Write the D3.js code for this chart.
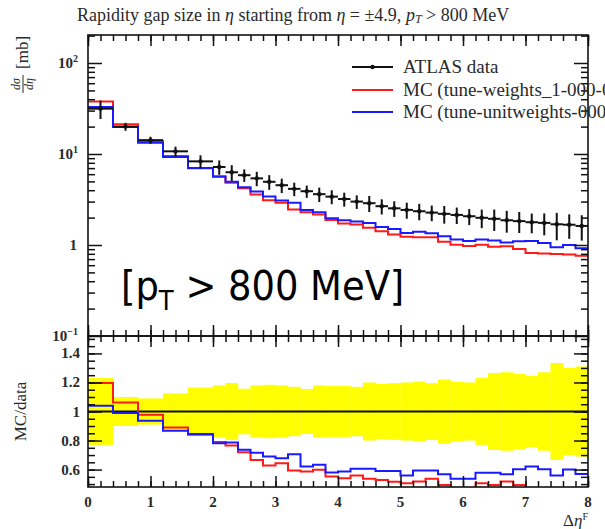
<!DOCTYPE html>
<html>
<head>
<meta charset="utf-8">
<script src="https://cdn.jsdelivr.net/npm/d3@7"></script>
<style>
  body { margin: 0; background: #fff; }
  svg { display: block; }
</style>
</head>
<body>
<script>
// bin edges in delta eta^F (wide bins up to 2, then 0.2)
var binEdges = [0, 0.4, 0.8, 1.2, 1.6, 2.0, 2.2, 2.4, 2.6, 2.8, 3.0, 3.2, 3.4, 3.6, 3.8, 4.0,
    4.2, 4.4, 4.6, 4.8, 5.0, 5.2, 5.4, 5.6, 5.8, 6.0, 6.2, 6.4, 6.6, 6.8, 7.0, 7.2, 7.4, 7.6, 7.8, 8.0];

// ATLAS data, dsigma/deta [mb]
var atlasData = [31.5, 20, 14.2, 10.7, 8.3, 7.2, 6.3, 5.85, 5.4, 4.95, 4.54, 4.14, 3.9, 3.62, 3.4,
    3.2, 3.0, 2.88, 2.67, 2.53, 2.43, 2.35, 2.27, 2.2, 2.14, 2.07, 1.99, 1.94, 1.87, 1.83, 1.78,
    1.75, 1.69, 1.67, 1.62];
// relative uncertainty of the data (yellow band half width)
var atlasRelErr = [0.23, 0.10, 0.09, 0.125, 0.165, 0.18, 0.196, 0.157, 0.18, 0.184, 0.18, 0.17,
    0.155, 0.18, 0.175, 0.175, 0.17, 0.2, 0.19, 0.195, 0.2, 0.205, 0.195, 0.22, 0.205, 0.2, 0.23,
    0.265, 0.27, 0.26, 0.245, 0.27, 0.334, 0.3, 0.31];
// MC (tune-weights_1-000-000), red
var mcWeights = [37.67, 21.24, 13.87, 9.52, 6.97, 5.69, 4.83, 4.21, 3.60, 3.11, 2.92, 2.455, 2.285,
    2.165, 1.877, 1.728, 1.677, 1.544, 1.412, 1.308, 1.23, 1.215, 1.217, 1.087, 1.006, 0.973,
    1.007, 0.958, 0.967, 0.904, 0.819, 0.805, 0.794, 0.785, 0.761];
// MC (tune-unitweights-000), blue
var mcUnit = [32.76, 19.8, 13.29, 9.28, 7.01, 5.63, 4.96, 4.31, 3.87, 3.42, 3.08, 2.92, 2.42, 2.29,
    1.97, 1.875, 1.815, 1.742, 1.578, 1.495, 1.358, 1.394, 1.346, 1.25, 1.147, 1.11, 1.152, 1.123,
    1.062, 1.103, 1.105, 1.055, 0.945, 1.002, 0.923];

var xTickLabels = [0, 1, 2, 3, 4, 5, 6, 7, 8];
var ratioTicks = [0.6, 0.8, 1, 1.2, 1.4];
var legendLabels = ["ATLAS data", "MC (tune-weights_1-000-000)", "MC (tune-unitweights-000)"];

function drawChart() {
    var width = 605, height = 529;
    var left = 88, right = 588, plotTop = 35, mid = 336, bottom = 487;
    var serif = "'Liberation Serif', 'DejaVu Serif', serif";
    var labelColor = "#2a2a2a";

    var svg = d3.select("body").append("svg")
        .attr("width", width)
        .attr("height", height);

    var x = d3.scaleLinear().domain([0, 8]).range([left, right]);
    var y = d3.scaleLog().domain([0.1, Math.pow(10, 2 + 28 / 91)]).range([mid, plotTop]);
    var yr = d3.scaleLinear().domain([0.48, 1.52]).range([bottom, mid]);

    var defs = svg.append("defs");
    defs.append("clipPath").attr("id", "clipMain").append("rect")
        .attr("x", left).attr("y", plotTop).attr("width", right - left).attr("height", mid - plotTop);
    defs.append("clipPath").attr("id", "clipRatio").append("rect")
        .attr("x", left).attr("y", mid).attr("width", right - left).attr("height", bottom - mid);

    // step path over bins
    function stepPath(values, scaleY) {
        var p = d3.path();
        values.forEach(function (v, i) {
            var x0 = x(binEdges[i]), x1 = x(binEdges[i + 1]), yy = scaleY(v);
            if (i === 0) p.moveTo(x0, yy); else p.lineTo(x0, yy);
            p.lineTo(x1, yy);
        });
        return p.toString();
    }

    // ---------- main panel ----------
    var gMain = svg.append("g").attr("clip-path", "url(#clipMain)");
    gMain.append("path").attr("d", stepPath(mcWeights, y))
        .attr("fill", "none").attr("stroke", "#ff1a1a").attr("stroke-width", 2);
    gMain.append("path").attr("d", stepPath(mcUnit, y))
        .attr("fill", "none").attr("stroke", "#1a1aff").attr("stroke-width", 2);

    var pts = gMain.selectAll(".pt").data(atlasData).enter().append("g");
    pts.append("line")
        .attr("x1", function (d, i) { return x(binEdges[i]); })
        .attr("x2", function (d, i) { return x(binEdges[i + 1]); })
        .attr("y1", function (d) { return y(d); })
        .attr("y2", function (d) { return y(d); })
        .attr("stroke", "#111").attr("stroke-width", 2);
    pts.append("line")
        .attr("x1", function (d, i) { return x((binEdges[i] + binEdges[i + 1]) / 2); })
        .attr("x2", function (d, i) { return x((binEdges[i] + binEdges[i + 1]) / 2); })
        .attr("y1", function (d, i) { return y(d * (1 - atlasRelErr[i])); })
        .attr("y2", function (d, i) { return y(d * (1 + atlasRelErr[i])); })
        .attr("stroke", "#111").attr("stroke-width", 2);
    pts.append("circle")
        .attr("cx", function (d, i) { return x((binEdges[i] + binEdges[i + 1]) / 2); })
        .attr("cy", function (d) { return y(d); })
        .attr("r", 2.2).attr("fill", "#111");

    // ---------- ratio panel ----------
    var gRatio = svg.append("g").attr("clip-path", "url(#clipRatio)");
    gRatio.selectAll(".band").data(atlasRelErr).enter().append("rect")
        .attr("x", function (d, i) { return x(binEdges[i]); })
        .attr("width", function (d, i) { return x(binEdges[i + 1]) - x(binEdges[i]) + 0.3; })
        .attr("y", function (d) { return yr(1 + d); })
        .attr("height", function (d) { return yr(1 - d) - yr(1 + d); })
        .attr("fill", "#ffff00");
    gRatio.append("line")
        .attr("x1", left).attr("x2", right).attr("y1", yr(1)).attr("y2", yr(1))
        .attr("stroke", "#111").attr("stroke-width", 2);
    var ratioW = mcWeights.map(function (v, i) { return v / atlasData[i]; });
    var ratioU = mcUnit.map(function (v, i) { return v / atlasData[i]; });
    gRatio.append("path").attr("d", stepPath(ratioW, yr))
        .attr("fill", "none").attr("stroke", "#ff1a1a").attr("stroke-width", 2);
    gRatio.append("path").attr("d", stepPath(ratioU, yr))
        .attr("fill", "none").attr("stroke", "#1a1aff").attr("stroke-width", 2);

    // ---------- ticks ----------
    var xMinor = d3.range(0, 8.001, 0.2);
    function tickGroup(axis, tx, ty) {
        var g = svg.append("g").attr("transform", "translate(" + tx + "," + ty + ")").call(axis);
        g.select(".domain").remove();
        g.selectAll("line").attr("stroke", "#111").attr("stroke-width", 1.5);
        return g;
    }
    [[d3.axisBottom, plotTop], [d3.axisTop, mid], [d3.axisBottom, mid], [d3.axisTop, bottom]].forEach(function (a) {
        tickGroup(a[0](x).tickValues(xMinor).tickSize(6).tickFormat(""), 0, a[1]);
        tickGroup(a[0](x).tickValues(xTickLabels).tickSize(11).tickFormat(""), 0, a[1]);
    });

    var logMinor = [];
    [0.1, 1, 10, 100].forEach(function (dec) {
        for (var k = 2; k <= 9; k++) if (k * dec < y.domain()[1]) logMinor.push(k * dec);
    });
    var logMajor = [0.1, 1, 10, 100];
    tickGroup(d3.axisRight(y).tickValues(logMinor).tickSize(7).tickFormat(""), left, 0);
    tickGroup(d3.axisRight(y).tickValues(logMajor).tickSize(14).tickFormat(""), left, 0);
    tickGroup(d3.axisLeft(y).tickValues(logMinor).tickSize(7).tickFormat(""), right, 0);
    tickGroup(d3.axisLeft(y).tickValues(logMajor).tickSize(14).tickFormat(""), right, 0);

    var rMinor = d3.range(0.5, 1.501, 0.05);
    tickGroup(d3.axisRight(yr).tickValues(rMinor).tickSize(7).tickFormat(""), left, 0);
    tickGroup(d3.axisRight(yr).tickValues(ratioTicks).tickSize(14).tickFormat(""), left, 0);
    tickGroup(d3.axisLeft(yr).tickValues(rMinor).tickSize(7).tickFormat(""), right, 0);
    tickGroup(d3.axisLeft(yr).tickValues(ratioTicks).tickSize(14).tickFormat(""), right, 0);

    // frames
    svg.append("rect").attr("x", left).attr("y", plotTop).attr("width", right - left).attr("height", mid - plotTop)
        .attr("fill", "none").attr("stroke", "#111").attr("stroke-width", 1.6);
    svg.append("rect").attr("x", left).attr("y", mid).attr("width", right - left).attr("height", bottom - mid)
        .attr("fill", "none").attr("stroke", "#111").attr("stroke-width", 1.6);

    // ---------- tick labels ----------
    var lab = svg.append("g").attr("font-family", serif).attr("fill", labelColor)
        .attr("font-size", 15).attr("font-weight", "bold");
    lab.selectAll(".xl").data(xTickLabels).enter().append("text")
        .attr("x", function (d) { return x(d); }).attr("y", 507)
        .attr("text-anchor", "middle").text(function (d) { return d; });
    lab.selectAll(".rl").data(ratioTicks).enter().append("text")
        .attr("x", 80).attr("y", function (d) { return yr(d) + 5; })
        .attr("text-anchor", "end").text(function (d) { return d; });

    var logLabels = [{ v: 100, e: "2" }, { v: 10, e: "1" }, { v: 0.1, e: "\u22121" }];
    logLabels.forEach(function (l) {
        var t = lab.append("text").attr("x", 78).attr("y", y(l.v) + 5).attr("text-anchor", "end");
        t.append("tspan").text("10");
        t.append("tspan").attr("dy", -6).attr("font-size", 10).text(l.e);
    });
    lab.append("text").attr("x", 77).attr("y", y(1) + 5).attr("text-anchor", "end").text("1");

    // ---------- title ----------
    var title = svg.append("text").attr("x", 77).attr("y", 21)
        .attr("font-family", serif).attr("font-size", 18).attr("fill", labelColor);
    title.append("tspan").text("Rapidity gap size in ");
    title.append("tspan").attr("font-style", "italic").text("\u03b7");
    title.append("tspan").text(" starting from ");
    title.append("tspan").attr("font-style", "italic").text("\u03b7");
    title.append("tspan").text(" = \u00b14.9, ");
    title.append("tspan").attr("font-style", "italic").text("p");
    title.append("tspan").attr("font-style", "italic").attr("font-size", 12).attr("dy", 2).text("T");
    title.append("tspan").attr("dy", -2).text(" > 800 MeV");

    // ---------- axis titles ----------
    var yl = svg.append("g").attr("transform", "translate(27,96) rotate(-90)")
        .attr("font-family", serif).attr("fill", labelColor);
    yl.append("text").attr("x", 12).attr("y", -7).attr("text-anchor", "middle").attr("font-size", 12)
        .attr("font-style", "italic").text("d\u03c3");
    yl.append("line").attr("x1", 3).attr("x2", 21).attr("y1", -4).attr("y2", -4)
        .attr("stroke", labelColor).attr("stroke-width", 1);
    yl.append("text").attr("x", 12).attr("y", 6).attr("text-anchor", "middle").attr("font-size", 12)
        .attr("font-style", "italic").text("d\u03b7");
    yl.append("text").attr("x", 27).attr("y", 1).attr("font-size", 17).text("[mb]");

    svg.append("text").attr("transform", "translate(26," + yr(1) + ") rotate(-90)")
        .attr("text-anchor", "middle").attr("font-family", serif).attr("font-size", 17)
        .attr("fill", labelColor).text("MC/data");

    var xt = svg.append("text").attr("x", 588).attr("y", 526).attr("text-anchor", "end")
        .attr("font-family", serif).attr("font-size", 17).attr("fill", labelColor);
    xt.append("tspan").text("\u0394");
    xt.append("tspan").attr("font-style", "italic").text("\u03b7");
    xt.append("tspan").attr("dy", -6).attr("font-size", 10).text("F");

    // ---------- legend ----------
    var legColors = ["#111", "#ff1a1a", "#1a1aff"];
    var legY = [67, 90, 112];
    var leg = svg.append("g").attr("font-family", serif).attr("font-size", 19).attr("fill", labelColor);
    legendLabels.forEach(function (t, i) {
        leg.append("line").attr("x1", 352).attr("x2", 393).attr("y1", legY[i]).attr("y2", legY[i])
            .attr("stroke", legColors[i]).attr("stroke-width", 2);
        if (i === 0) leg.append("circle").attr("cx", 372.5).attr("cy", legY[i]).attr("r", 2.2).attr("fill", "#111");
        leg.append("text").attr("x", 403).attr("y", legY[i] + 6).text(t);
    });

    // ---------- overlay annotation ----------
    var ann = svg.append("text").attr("x", 121).attr("y", 300)
        .attr("font-family", "'DejaVu Sans Condensed', 'DejaVu Sans', sans-serif")
        .attr("font-size", 41).attr("fill", "#000");
    ann.append("tspan").text("[p");
    ann.append("tspan").attr("font-size", 27).attr("dy", 10).text("T");
    ann.append("tspan").attr("dy", -10).text(" > 800 MeV]");
}

drawChart();
</script>
</body>
</html>
